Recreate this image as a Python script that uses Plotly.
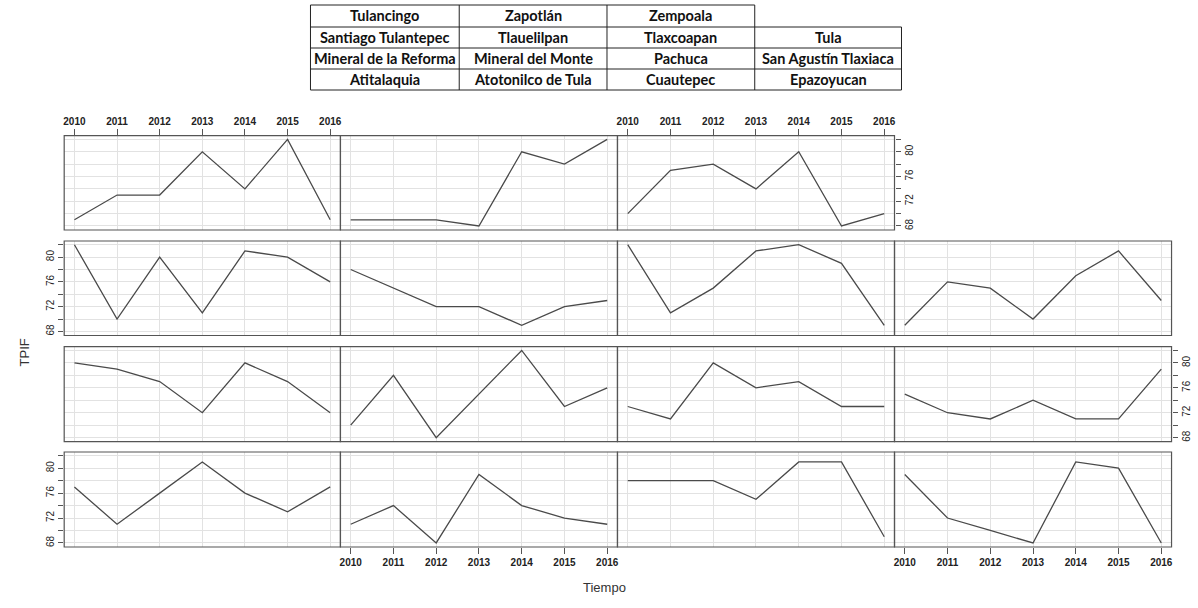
import plotly.graph_objects as go

years = [2010, 2011, 2012, 2013, 2014, 2015, 2016]

# Series (TPIF by year)
tulancingo = [69, 73, 73, 80, 74, 82, 69]
zapotlan = [69, 69, 69, 68, 80, 78, 82]
zempoala = [70, 77, 78, 74, 80, 68, 70]
santiago_tulantepec = [82, 70, 80, 71, 81, 80, 76]
tlauelilpan = [78, 75, 72, 72, 69, 72, 73]
tlaxcoapan = [82, 71, 75, 81, 82, 79, 69]
tula = [69, 76, 75, 70, 77, 81, 73]
mineral_reforma = [80, 79, 77, 72, 80, 77, 72]
mineral_monte = [70, 78, 68, 75, 82, 73, 76]
pachuca = [73, 71, 80, 76, 77, 73, 73]
san_agustin = [75, 72, 71, 74, 71, 71, 79]
atitalaquia = [77, 71, 76, 81, 76, 73, 77]
atotonilco = [71, 74, 68, 79, 74, 72, 71]
cuautepec = [78, 78, 78, 75, 81, 81, 69]
epazoyucan = [79, 72, 70, 68, 81, 80, 68]

# Table of panel names (row by row, as in the grid)
table_row1 = ["Tulancingo", "Zapotlán", "Zempoala"]
table_row2 = ["Santiago Tulantepec", "Tlauelilpan", "Tlaxcoapan", "Tula"]
table_row3 = ["Mineral de la Reforma", "Mineral del Monte", "Pachuca", "San Agustín Tlaxiaca"]
table_row4 = ["Atitalaquia", "Atotonilco de Tula", "Cuautepec", "Epazoyucan"]

y_ticks = [68, 70, 72, 74, 76, 78, 80, 82]
y_ticktext = ["68", "", "72", "", "76", "", "80", ""]

grid_series = [
    [tulancingo, zapotlan, zempoala],
    [santiago_tulantepec, tlauelilpan, tlaxcoapan, tula],
    [mineral_reforma, mineral_monte, pachuca, san_agustin],
    [atitalaquia, atotonilco, cuautepec, epazoyucan],
]

W, H = 1198, 608
cols_x = [(63.3, 340.0), (340.0, 617.5), (617.5, 895.0), (895.0, 1172.5)]
rows_y = [(135.7, 230.0), (241.0, 335.5), (346.7, 441.7), (452.0, 547.0)]

fig = go.Figure()
layout = {}
shapes = []
idx = 0
for r, row in enumerate(grid_series):
    for c, series in enumerate(row):
        idx += 1
        sfx = "" if idx == 1 else str(idx)
        fig.add_trace(go.Scatter(
            x=years, y=series, mode="lines",
            line=dict(color="#4a4a4a", width=1.3),
            xaxis="x" + sfx, yaxis="y" + sfx, showlegend=False,
            hoverinfo="x+y"))
        x0, x1 = cols_x[c]
        y0, y1 = rows_y[r]
        xa = dict(domain=[x0 / W, x1 / W], range=[2009.76, 2016.24],
                  anchor="y" + sfx, tickvals=years,
                  showgrid=True, gridcolor="#e2e2e2", gridwidth=1,
                  zeroline=False, showline=False,
                  tickfont=dict(family="Liberation Sans", size=10,
                                color="#222", weight="bold"),
                  ticks="", showticklabels=False)
        ya = dict(domain=[1 - y1 / H, 1 - y0 / H], range=[67.35, 82.6],
                  anchor="x" + sfx, tickvals=y_ticks, ticktext=y_ticktext,
                  showgrid=True, gridcolor="#e2e2e2", gridwidth=1,
                  zeroline=False, showline=False,
                  tickfont=dict(family="Liberation Sans", size=10, color="#222"),
                  tickangle=-90,
                  ticks="", showticklabels=False)
        # alternating x labels: top row cols 1 and 3, bottom row cols 2 and 4
        if r == 0 and c in (0, 2):
            xa.update(side="top", ticks="outside", ticklen=6,
                      tickcolor="#555555", showticklabels=True)
        if r == 3 and c in (1, 3):
            xa.update(side="bottom", ticks="outside", ticklen=6,
                      tickcolor="#555555", showticklabels=True)
        # alternating y labels
        if r in (1, 3) and c == 0:
            ya.update(side="left", ticks="outside", ticklen=5,
                      tickcolor="#555555", showticklabels=True)
        if (r == 0 and c == 2) or (r == 2 and c == 3):
            ya.update(side="right", ticks="outside", ticklen=5,
                      tickcolor="#555555", showticklabels=True)
        layout["xaxis" + sfx] = xa
        layout["yaxis" + sfx] = ya
        # panel border drawn above grid
        shapes.append(dict(type="rect", xref="paper", yref="paper",
                           x0=x0 / W, x1=x1 / W, y0=1 - y1 / H, y1=1 - y0 / H,
                           line=dict(color="#555555", width=1.2),
                           fillcolor="rgba(0,0,0,0)", layer="above"))

fig.update_layout(**layout)

# Table of names
tx = [310, 459, 607, 755, 902]
ty = [5, 27, 48, 69, 90]
lc = dict(color="#222", width=1)


def pline(xa0, ya0, xa1, ya1):
    shapes.append(dict(type="line", xref="paper", yref="paper",
                       x0=xa0 / W, x1=xa1 / W, y0=1 - ya0 / H, y1=1 - ya1 / H,
                       line=lc))


# top row (3 cells)
pline(tx[0], ty[0], tx[3], ty[0])
for i in range(4):
    pline(tx[i], ty[0], tx[i], ty[1])
# remaining rows
for j in range(1, 5):
    pline(tx[0], ty[j], tx[4], ty[j])
for i in range(5):
    pline(tx[i], ty[1], tx[i], ty[4])

annotations = []
for j, row in enumerate([table_row1, table_row2, table_row3, table_row4]):
    for i, name in enumerate(row):
        annotations.append(dict(
            text=name, xref="paper", yref="paper",
            x=(tx[i] + tx[i + 1]) / 2 / W, y=1 - (ty[j] + ty[j + 1]) / 2 / H,
            showarrow=False, xanchor="center", yanchor="middle",
            font=dict(family="Lato", size=14.5, color="#111", weight="bold")))

annotations.append(dict(text="TPIF", xref="paper", yref="paper",
                        x=14 / W, y=1 - 352 / H, showarrow=False, textangle=-90,
                        font=dict(family="Liberation Sans", size=13, color="#333")))
annotations.append(dict(text="Tiempo", xref="paper", yref="paper",
                        x=605 / W, y=1 - 597 / H, showarrow=False,
                        font=dict(family="Liberation Sans", size=13, color="#333")))

fig.update_layout(width=W, height=H, margin=dict(l=0, r=0, t=0, b=0),
                  paper_bgcolor="white", plot_bgcolor="white",
                  shapes=shapes, annotations=annotations)

fig.write_html("out.html", config={"displayModeBar": False},
               post_script="document.body.style.margin='0';"
                           "document.body.style.overflow='hidden';")
